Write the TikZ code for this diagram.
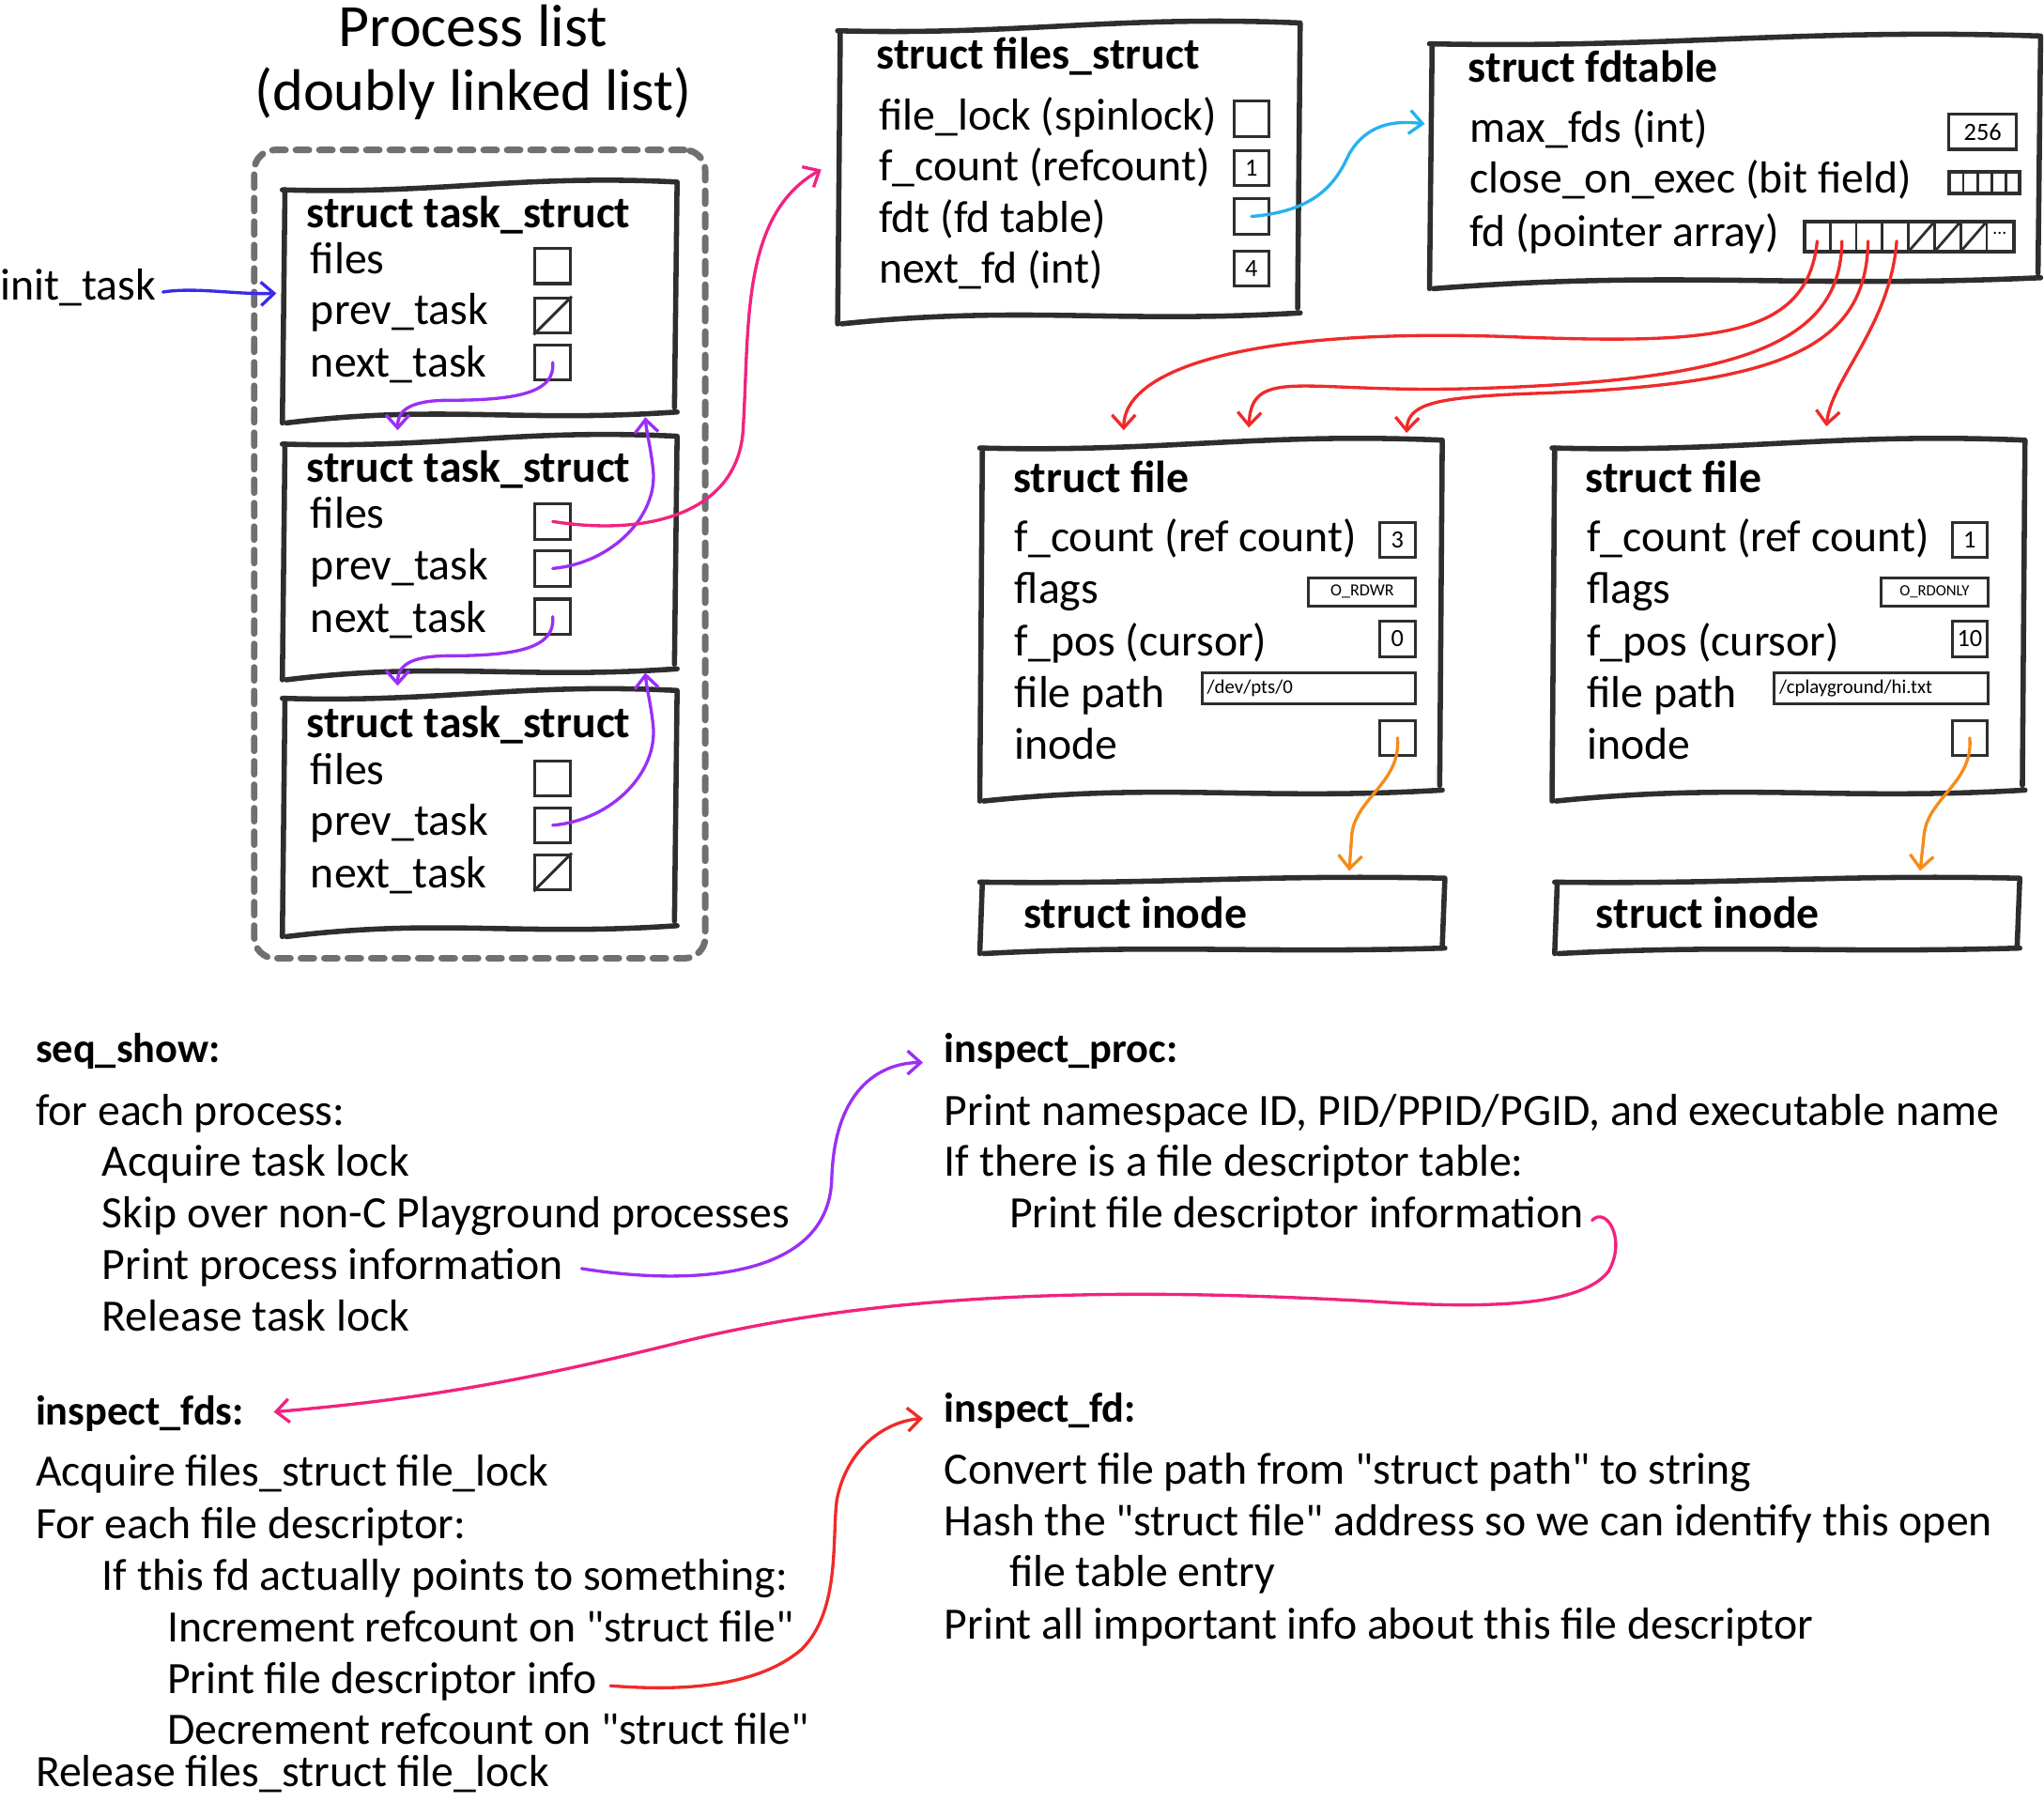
\documentclass[tikz,border=0pt]{standalone}
\usepackage{fontspec}
\setmainfont{Carlito}
\usetikzlibrary{arrows.meta,calc}
\definecolor{ink}{HTML}{2E2E2E}
\definecolor{dashgray}{HTML}{707070}
\definecolor{cblue}{HTML}{3A2BEA}
\definecolor{cpurple}{HTML}{9B2FF5}
\definecolor{cpink}{HTML}{F2227F}
\definecolor{ccyan}{HTML}{27B1EE}
\definecolor{cred}{HTML}{F02A2A}
\definecolor{corange}{HTML}{F58C1A}
\newcommand\sketch[2]{%
 \draw[boxline] ($(#1.north west)+(0,-#2)$) .. controls ($(#1.north west)!0.4!(#1.north east)+(0,-1.6*#2)$) and ($(#1.north west)!0.6!(#1.north east)+(0,#2)$) .. (#1.north east) -- ($(#1.south east)+(-2,#2)$);
 \draw[boxline] ($(#1.north west)+(2,-#2)$) -- ($(#1.south west)+(0,-#2)$);
 \draw[boxline] ($(#1.south west)+(3,-#2)$) .. controls ($(#1.south west)!0.4!(#1.south east)+(0,1.4*#2)$) and ($(#1.south west)!0.6!(#1.south east)+(0,-#2)$) .. ($(#1.south east)+(0,0.4*#2)$);
}
\newcommand\qq{\textquotedbl}
\begin{document}
\begin{tikzpicture}[x=0.5pt,y=0.5pt,
 boxline/.style={draw=ink,line width=2pt,line cap=round,line join=round},
 frame/.style={draw=none,inner sep=0pt,rectangle},
 lbl/.style={anchor=west,inner sep=0pt,font=\fontsize{17.2}{20}\selectfont,text height=0.9em,text depth=0.1em},
 hd/.style={anchor=west,inner sep=0pt,font=\bfseries\fontsize{17.2}{20}\selectfont,text height=0.9em,text depth=0.1em},
 hdb/.style={anchor=west,inner sep=0pt,font=\bfseries\fontsize{16}{19}\selectfont,text height=0.9em,text depth=0.1em},
 big/.style={anchor=center,inner sep=0pt},
 vbox/.style={draw=ink,line width=1.1pt,minimum width=13.5pt,minimum height=13.5pt,inner sep=0pt,font=\fontsize{9.5}{10}\selectfont},
 arr/.style={line width=1.2pt,line cap=round,-{Straight Barb[length=5pt,width=9pt,line width=1.2pt]}},
]
\useasboundingbox (0,0) rectangle (1568,-1382);

% ---------------- Process list ----------------
\node[big,font=\fontsize{23}{26}\selectfont] (t1) at (363,-20) {Process list};
\node[big,font=\fontsize{22.5}{26}\selectfont] (t2) at (363,-72) {(doubly linked list)};
\node[draw=dashgray,line width=2.5pt,dash pattern=on 5pt off 4pt,line cap=round,rounded corners=8pt,minimum width=173pt,minimum height=310pt,inner sep=0pt] (plist) at (368,-425) {};

\foreach \n/\cy/\h in {tb1/-229/89, tb2/-425/90, tb3/-621/91}{
 \node[frame,minimum width=151pt,minimum height=\h pt] (\n) at (368,\cy) {};
 \sketch{\n}{6}
}
% task box 1
\node[hd] (tb1t) at (235,-167) {struct task\_struct};
\node[lbl] (tb1f) at (238,-202) {files};
\node[lbl] (tb1p) at (238,-241) {prev\_task};
\node[lbl] (tb1n) at (238,-281) {next\_task};
\node[vbox] (tb1fb) at (424,-204) {};
\node[vbox] (tb1pb) at (424,-242) {};
\node[vbox] (tb1nb) at (424,-278) {};
\draw[ink,line width=1.1pt] (tb1pb.south west) -- (tb1pb.north east);
% task box 2
\node[hd] (tb2t) at (235,-362) {struct task\_struct};
\node[lbl] (tb2f) at (238,-397) {files};
\node[lbl] (tb2p) at (238,-437) {prev\_task};
\node[lbl] (tb2n) at (238,-477) {next\_task};
\node[vbox] (tb2fb) at (424,-400) {};
\node[vbox] (tb2pb) at (424,-436) {};
\node[vbox] (tb2nb) at (424,-473) {};
% task box 3
\node[hd] (tb3t) at (235,-558) {struct task\_struct};
\node[lbl] (tb3f) at (238,-594) {files};
\node[lbl] (tb3p) at (238,-633) {prev\_task};
\node[lbl] (tb3n) at (238,-673) {next\_task};
\node[vbox] (tb3fb) at (424,-597) {};
\node[vbox] (tb3pb) at (424,-633) {};
\node[vbox] (tb3nb) at (424,-669) {};
\draw[ink,line width=1.1pt] (tb3nb.south west) -- (tb3nb.north east);

% init_task
\node[lbl] (init) at (0,-222) {init\_task};
\coordinate (initend) at (212,-225);
\draw[arr,cblue] (init.east) ++(5,-2) .. controls (150,-220) and (180,-226) .. (initend);

% purple links
\coordinate (tb2top) at (305,-330);
\coordinate (tb1bot) at (495,-320);
\coordinate (tb3top) at (305,-526);
\coordinate (tb2bot) at (495,-516);
\draw[arr,cpurple] (tb1nb.center) .. controls (426,-300) and (400,-307) .. (345,-307) .. controls (312,-307) and (305,-316) .. (tb2top);
\draw[arr,cpurple] (tb2pb.center) .. controls (470,-432) and (505,-395) .. (501,-360) .. controls (499,-342) and (496,-332) .. (tb1bot);
\draw[arr,cpurple] (tb2nb.center) .. controls (426,-496) and (400,-503) .. (345,-503) .. controls (312,-503) and (305,-512) .. (tb3top);
\draw[arr,cpurple] (tb3pb.center) .. controls (470,-629) and (505,-592) .. (501,-556) .. controls (499,-538) and (496,-528) .. (tb2bot);

% ---------------- files_struct ----------------
\node[frame,minimum width=177pt,minimum height=112pt] (fs) at (820,-130) {};
\sketch{fs}{6}
\node[hd] (fst) at (672,-45) {struct files\_struct};
\node[lbl] (fs1) at (674,-92) {file\_lock (spinlock)};
\node[lbl] (fs2) at (674,-131) {f\_count (refcount)};
\node[lbl] (fs3) at (674,-170) {fdt (fd table)};
\node[lbl] (fs4) at (674,-209) {next\_fd (int)};
\node[vbox] (fs1b) at (960,-91) {};
\node[vbox] (fs2b) at (960,-129) {1};
\node[vbox] (fs3b) at (960,-166) {};
\node[vbox] (fs4b) at (960,-206) {4};
\coordinate (fsleft) at (630,-130);
\draw[arr,cpink] (tb2fb.center) .. controls (500,-412) and (566,-392) .. (570,-330) .. controls (575,-250) and (568,-165) .. (fsleft);

% ---------------- fdtable ----------------
\node[frame,minimum width=234pt,minimum height=93.5pt] (fdt) at (1331,-121.5) {};
\sketch{fdt}{6}
\node[hd] (fdtt) at (1126,-55) {struct fdtable};
\node[lbl] (fd1) at (1127,-101) {max\_fds (int)};
\node[lbl] (fd2) at (1127,-140) {close\_on\_exec (bit field)};
\node[lbl] (fd3) at (1127,-181) {fd (pointer array)};
\node[vbox,minimum width=26pt] (maxb) at (1521,-101) {256};
\node[draw=ink,line width=1.4pt,minimum width=27pt,minimum height=8.5pt,inner sep=0pt] (coe) at (1522,-140) {};
\foreach \x in {1506,1517,1528,1539} \draw[ink,line width=1pt] (\x,-132) -- (\x,-148);
\node[draw=ink,line width=1.4pt,minimum width=80.5pt,minimum height=11.5pt,inner sep=0pt] (fdarr) at (1464.5,-181.5) {};
\foreach \x in {1404,1424,1444,1464,1484,1504,1524} \draw[ink,line width=1pt] (\x,-170) -- (\x,-193);
\foreach \x in {1464,1484,1504} \draw[ink,line width=1pt] (\x,-193) -- (\x+20,-170);
\node[font=\fontsize{7}{8}\selectfont,inner sep=0pt] (dots) at (1534,-179) {...};
\coordinate (fdc1) at (1394,-185);
\coordinate (fdc2) at (1413,-185);
\coordinate (fdc3) at (1433,-185);
\coordinate (fdc4) at (1455,-185);
\coordinate (fdtleft) at (1093,-95);
\draw[arr,ccyan] (fs3b.center) .. controls (1010,-162) and (1025,-140) .. (1035,-118) .. controls (1048,-96) and (1068,-92) .. (fdtleft);

% ---------------- struct file 1 ----------------
\node[frame,minimum width=177pt,minimum height=135pt] (f1) at (929,-473) {};
\sketch{f1}{6}
\node[hd] (f1t) at (777,-370) {struct file};
\node[lbl] (f1a) at (778,-415) {f\_count (ref count)};
\node[lbl] (f1b) at (778,-455) {flags};
\node[lbl] (f1c) at (778,-495) {f\_pos (cursor)};
\node[lbl] (f1d) at (778,-535) {file path};
\node[lbl] (f1e) at (778,-574) {inode};
\node[vbox] (f1ab) at (1072,-414) {3};
\node[vbox,minimum width=41pt,minimum height=11pt,font=\fontsize{6.5}{7}\selectfont] (f1bb) at (1045,-454) {O\_RDWR};
\node[vbox] (f1cb) at (1072,-490) {0};
\node[vbox,minimum width=82pt,minimum height=12pt,font=\fontsize{7.5}{8}\selectfont,text width=78pt,align=left] (f1db) at (1004,-528) {/dev/pts/0};
\node[vbox] (f1eb) at (1072,-566) {};

% ---------------- struct file 2 ----------------
\node[frame,minimum width=181pt,minimum height=135pt] (f2) at (1372,-473) {};
\sketch{f2}{6}
\node[hd] (f2t) at (1216,-370) {struct file};
\node[lbl] (f2a) at (1217,-415) {f\_count (ref count)};
\node[lbl] (f2b) at (1217,-455) {flags};
\node[lbl] (f2c) at (1217,-495) {f\_pos (cursor)};
\node[lbl] (f2d) at (1217,-535) {file path};
\node[lbl] (f2e) at (1217,-574) {inode};
\node[vbox] (f2ab) at (1511,-414) {1};
\node[vbox,minimum width=41pt,minimum height=11pt,font=\fontsize{6}{7}\selectfont] (f2bb) at (1484,-454) {O\_RDONLY};
\node[vbox] (f2cb) at (1511,-490) {10};
\node[vbox,minimum width=82pt,minimum height=12pt,font=\fontsize{7.5}{8}\selectfont,text width=78pt,align=left] (f2db) at (1443,-528) {/cplayground/hi.txt};
\node[vbox] (f2eb) at (1511,-566) {};

% red pointers
\coordinate (f1in1) at (862,-330);
\coordinate (f1in2) at (958,-328);
\coordinate (f1in3) at (1079,-332);
\coordinate (f2in) at (1401,-327);
\draw[arr,cred] (fdc1) .. controls (1386,-262) and (1310,-264) .. (1150,-258) .. controls (950,-252) and (862,-285) .. (f1in1);
\draw[arr,cred] (fdc2) .. controls (1412,-262) and (1340,-292) .. (1130,-298) .. controls (1000,-302) and (960,-280) .. (f1in2);
\draw[arr,cred] (fdc3) .. controls (1432,-270) and (1360,-296) .. (1170,-302) .. controls (1100,-305) and (1080,-310) .. (f1in3);
\draw[arr,cred] (fdc4) .. controls (1450,-250) and (1405,-290) .. (f2in);

% ---------------- inodes ----------------
\node[frame,minimum width=178pt,minimum height=27pt] (i1) at (930,-701) {};
\sketch{i1}{3}
\node[hd] (i1t) at (785,-704) {struct inode};
\node[frame,minimum width=178pt,minimum height=27pt] (i2) at (1371,-701) {};
\sketch{i2}{3}
\node[hd] (i2t) at (1224,-704) {struct inode};
\coordinate (i1in) at (1035,-668);
\coordinate (i2in) at (1473,-668);
\draw[arr,corange] (f1eb.center) .. controls (1075,-600) and (1040,-612) .. (1037,-640) -- (i1in);
\draw[arr,corange] (f2eb.center) .. controls (1514,-600) and (1479,-612) .. (1476,-640) -- (i2in);

% ---------------- code descriptions ----------------
\node[hdb] (ss) at (27,-807) {seq\_show:};
\node[lbl] (ss1) at (27,-855) {for each process:};
\node[lbl] (ss2) at (78,-894) {Acquire task lock};
\node[lbl] (ss3) at (78,-934) {Skip over non-C Playground processes};
\node[lbl] (ss4) at (78,-973) {Print process information};
\node[lbl] (ss5) at (78,-1013) {Release task lock};

\node[hdb] (ip) at (724,-807) {inspect\_proc:};
\node[lbl] (ip1) at (724,-855) {Print namespace ID, PID/PPID/PGID, and executable name};
\node[lbl] (ip2) at (724,-894) {If there is a file descriptor table:};
\node[lbl] (ip3) at (774,-934) {Print file descriptor information};

\node[hdb] (ifs) at (27,-1085) {inspect\_fds:};
\node[lbl] (ifs1) at (27,-1132) {Acquire files\_struct file\_lock};
\node[lbl] (ifs2) at (27,-1172) {For each file descriptor:};
\node[lbl] (ifs3) at (78,-1212) {If this fd actually points to something:};
\node[lbl] (ifs4) at (128,-1251) {Increment refcount on \qq struct file\qq};
\node[lbl] (ifs5) at (128,-1291) {Print file descriptor info};
\node[lbl] (ifs6) at (128,-1330) {Decrement refcount on \qq struct file\qq};
\node[lbl] (ifs7) at (27,-1362) {Release files\_struct file\_lock};

\node[hdb] (ifd) at (724,-1083) {inspect\_fd:};
\node[lbl] (ifd1) at (724,-1130) {Convert file path from \qq struct path\qq\ to string};
\node[lbl] (ifd2) at (724,-1170) {Hash the \qq struct file\qq\ address so we can identify this open};
\node[lbl] (ifd3) at (774,-1209) {file table entry};
\node[lbl] (ifd4) at (724,-1249) {Print all important info about this file descriptor};

\coordinate (ipin) at (708,-815);
\coordinate (ifsin) at (210,-1083);
\coordinate (ifdin) at (708,-1088);
\draw[arr,cpurple] ($(ss4.east)+(14,0)$) .. controls (520,-985) and (635,-985) .. (638,-905) .. controls (640,-830) and (680,-815) .. (ipin);
\draw[arr,cpink] ($(ip3.east)+(6,-2)$) .. controls (1232,-925) and (1248,-950) .. (1234,-975) .. controls (1215,-1000) and (1150,-1005) .. (1050,-998) .. controls (900,-990) and (700,-985) .. (520,-1030) .. controls (380,-1065) and (300,-1075) .. (ifsin);
\draw[arr,cred] ($(ifs5.east)+(10,-2)$) .. controls (520,-1297) and (580,-1295) .. (615,-1265) .. controls (645,-1235) and (638,-1180) .. (642,-1150) .. controls (650,-1110) and (680,-1090) .. (ifdin);
\end{tikzpicture}
\end{document}
